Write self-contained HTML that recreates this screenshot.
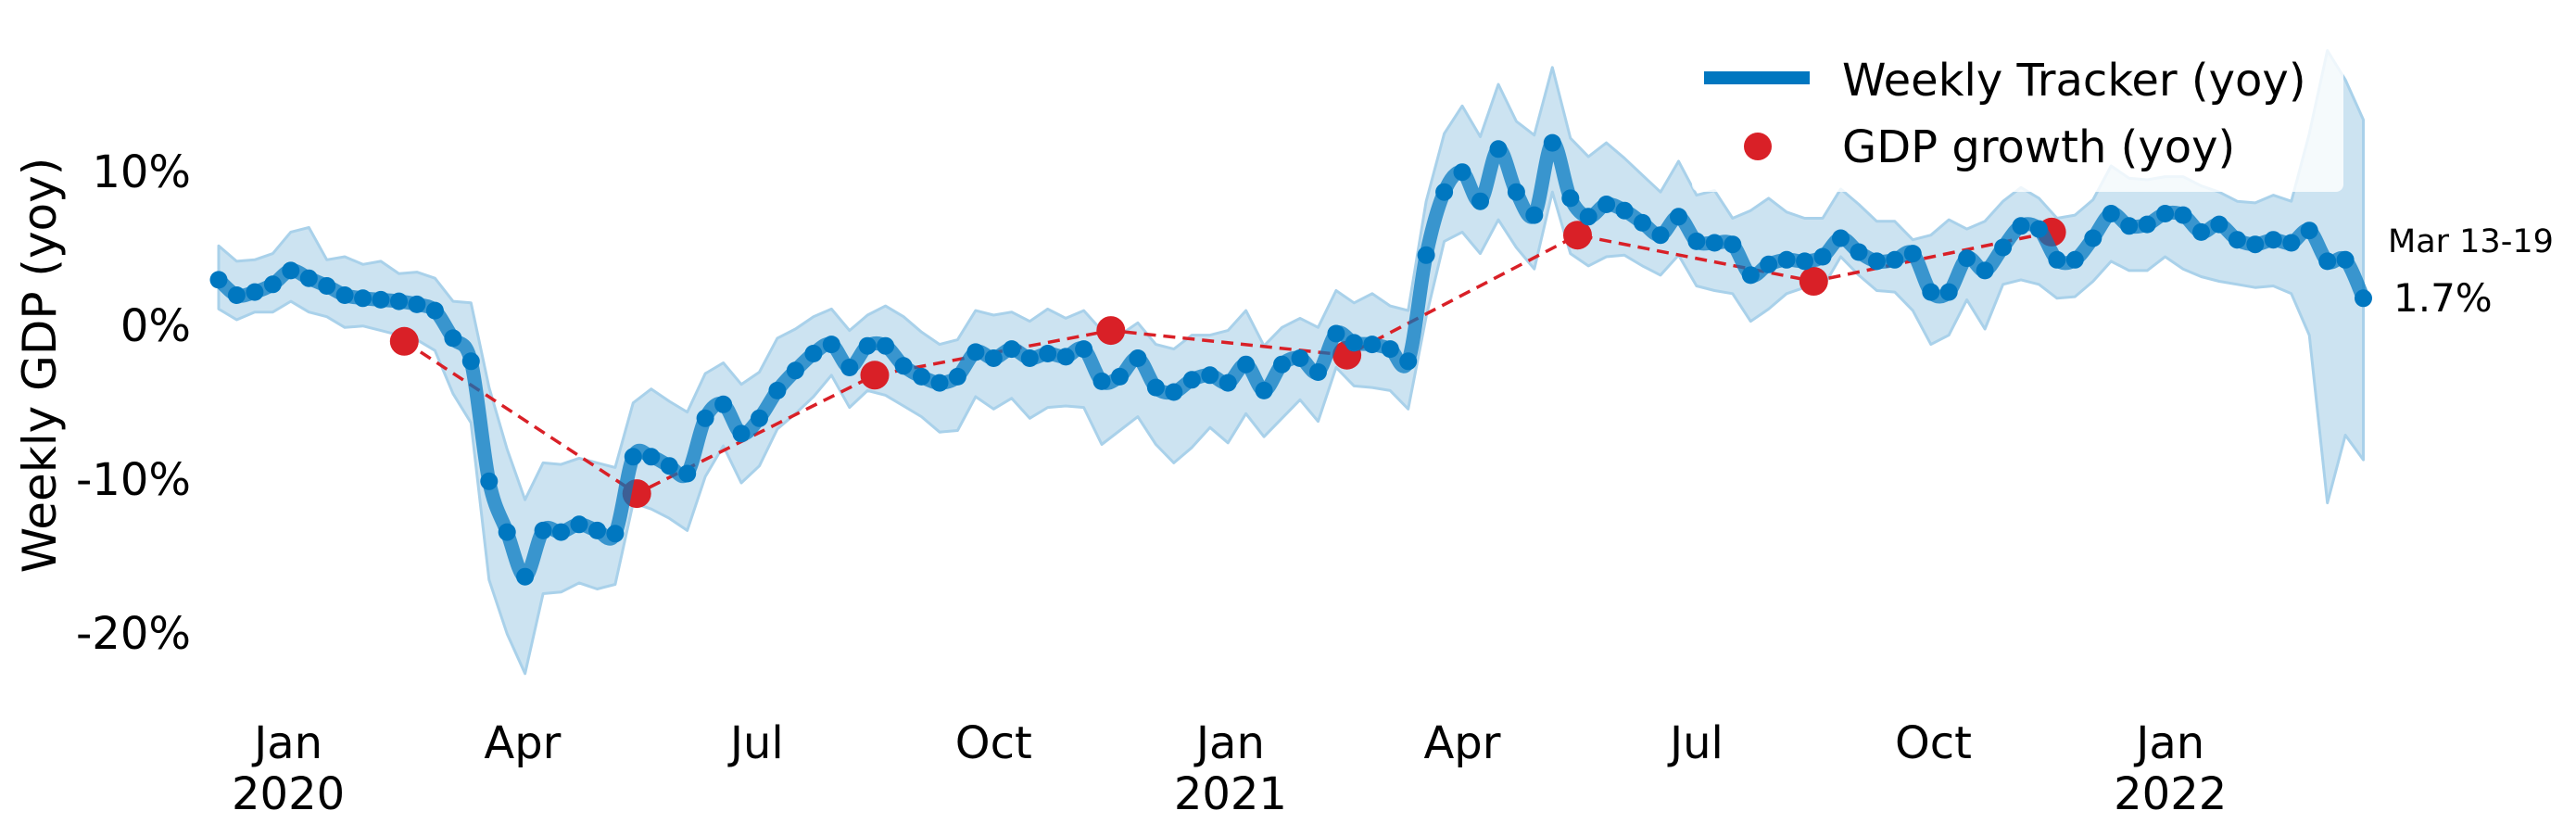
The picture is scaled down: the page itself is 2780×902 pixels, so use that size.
<!DOCTYPE html>
<html><head><meta charset="utf-8"><style>
html,body{margin:0;padding:0;background:#fff;}
svg{display:block;font-family:"DejaVu Sans","Liberation Sans",sans-serif;}
</style></head><body>
<svg id="chart" width="2780" height="902" viewBox="0 0 2780 902" xmlns="http://www.w3.org/2000/svg">
<g id="band-layer"></g>
<g id="gdp-layer"></g>
<g id="line-layer"></g>
<g id="yticks"></g>
<g id="xticks"></g>
<text transform="translate(60,394) rotate(-90)" text-anchor="middle" font-size="50" fill="#000">Weekly GDP (yoy)</text>
<g>
  <rect x="1826" y="28" width="703" height="179" rx="8" fill="#fff" fill-opacity="0.8"/>
  <g>
    <line x1="1839" y1="84" x2="1953" y2="84" stroke="#0077c0" stroke-width="14"/>
    <circle cx="1896" cy="84" r="5" fill="#0077c0"/>
    <text x="1988" y="103" font-size="48" fill="#000">Weekly Tracker (yoy)</text>
  </g>
  <g>
    <circle cx="1897" cy="158" r="15" fill="#d92027"/>
    <text x="1988" y="175" font-size="48" fill="#000">GDP growth (yoy)</text>
  </g>
</g>
<text x="2577" y="272" font-size="35" fill="#000">Mar 13-19</text>
<text x="2583" y="336" font-size="42" fill="#000">1.7%</text>
</svg>
<script>
// ---- data ----
const weekly = [2.9,1.9,2.1,2.6,3.5,3.0,2.5,1.9,1.7,1.6,1.5,1.3,0.9,-0.9,-2.4,-10.2,-13.5,-16.4,-13.4,-13.5,-13.0,-13.4,-13.6,-8.6,-8.6,-9.2,-9.7,-6.1,-5.2,-7.1,-6.1,-4.3,-3.0,-1.9,-1.3,-2.8,-1.4,-1.4,-2.7,-3.4,
-3.8,-3.4,-1.8,-2.2,-1.6,-2.2,-1.9,-2.1,-1.6,-3.7,-3.4,-2.2,-4.1,-4.4,-3.6,-3.3,-3.8,-2.6,-4.3,-2.6,-2.2,-3.1,-0.6,-1.2,-1.3,-1.6,-2.4,
4.5,8.6,9.9,8.0,11.4,8.6,7.1,11.8,8.2,7.0,7.8,7.4,6.6,5.8,7.0,5.4,5.3,5.2,3.2,3.9,4.2,4.1,4.4,5.6,4.7,4.1,4.2,4.6,2.1,2.1,4.3,3.5,5.0,6.4,6.2,4.2,4.2,5.6,7.2,6.4,6.5,7.2,7.1,6.0,6.5,5.5,5.2,5.5,5.3,6.1,4.1,4.2,1.7];
const upper = [5.1,4.1,4.2,4.6,6.0,6.3,4.2,4.4,3.9,4.1,3.3,3.4,3.0,1.5,1.4,-4.1,-8.1,-11.4,-9.0,-9.1,-8.7,-9.0,-9.3,-5.1,-4.2,-5.0,-5.7,-3.2,-2.5,-3.9,-3.1,-0.9,-0.3,0.5,1.0,-0.4,0.6,1.2,0.5,-0.5,
-1.3,-1.0,0.9,0.6,0.8,0.2,1.0,0.4,0.9,-0.4,-0.7,0.1,-1.3,-1.6,-0.7,-0.7,-0.4,0.9,-1.4,-0.2,0.4,-0.2,2.2,1.4,2.0,1.2,0.9,
8.0,12.4,14.2,12.2,15.6,13.2,12.3,16.7,12.1,10.9,11.8,10.8,9.7,8.6,10.6,8.4,8.7,6.9,7.4,8.2,7.3,6.9,6.9,8.8,7.8,6.7,6.7,5.5,5.8,6.8,6.2,6.7,8.0,8.9,8.2,6.9,7.1,8.1,10.3,9.5,9.4,9.6,9.6,9.0,8.6,8.0,7.9,8.4,8.0,12.4,17.8,15.9,13.3];
const lower = [1.0,0.3,0.8,0.8,1.5,0.8,0.5,-0.2,-0.1,-0.4,-0.7,-1.0,-1.7,-4.5,-6.4,-16.6,-20.1,-22.7,-17.5,-17.4,-16.8,-17.2,-16.9,-11.6,-12.0,-12.6,-13.4,-9.9,-7.9,-10.3,-9.2,-6.8,-5.8,-4.7,-3.3,-5.4,-4.3,-4.6,-5.3,-6.0,
-7.0,-6.9,-4.7,-5.5,-4.8,-6.1,-5.4,-5.3,-5.4,-7.8,-6.9,-6.0,-7.8,-9.0,-8.0,-6.7,-7.7,-5.8,-7.3,-6.1,-4.9,-6.3,-2.8,-4.0,-4.1,-4.3,-5.5,
0.5,5.4,6.0,4.6,6.8,5.0,3.6,8.6,4.6,3.8,4.4,4.5,3.8,3.2,4.5,2.5,2.2,2.0,0.2,1.0,2.0,2.4,2.4,4.4,3.2,2.2,2.1,0.9,-1.3,-0.7,1.6,-0.3,2.6,2.9,2.6,1.7,1.8,2.8,4.1,3.5,3.5,4.4,3.6,3.1,2.8,2.6,2.4,2.5,2.0,-0.7,-11.6,-7.2,-8.8];
const gdpWeek = [10.3,23.2,36.4,49.5,62.6,75.4,88.5,101.7];
const gdpValues = [-1.1,-11.0,-3.3,-0.4,-2.0,5.8,2.8,6.0];
const yTickValues = [-20,-10,0,10];
const yTickLabels = ["-20%","-10%","0%","10%"];
const xTickWeeks = [3.86,16.86,29.86,43.0,56.14,69.0,82.0,95.14,108.29];
const xTickMonths = ["Jan","Apr","Jul","Oct","Jan","Apr","Jul","Oct","Jan"];
const xTickYears = ["2020","","","","2021","","","","2022"];

// ---- scales ----
const X0 = 236, DX = 19.45;
const xs = k => X0 + k * DX;
const ys = v => 350 - v * 16.6;
const NS = "http://www.w3.org/2000/svg";
function mk(tag, parent){ const e = document.createElementNS(NS, tag); parent.appendChild(e); return e; }

// band
const band = document.getElementById('band-layer');
let d = '';
upper.forEach((v,i)=>{ d += (i?'L':'M') + xs(i).toFixed(1) + ',' + ys(v).toFixed(1); });
for (let i = lower.length-1; i >= 0; i--) d += 'L' + xs(i).toFixed(1) + ',' + ys(lower[i]).toFixed(1);
const bp = mk('path', band);


bp.setAttribute('d', d + 'Z');
bp.setAttribute('fill', '#cce3f1');
bp.setAttribute('stroke', '#a9d1ea');
bp.setAttribute('stroke-width', '3');
bp.setAttribute('stroke-linejoin', 'round');

// gdp dashed line + dots
const gl = document.getElementById('gdp-layer');
const gpath = mk('polyline', gl);


gpath.setAttribute('points', gdpWeek.map((k,i)=>xs(k).toFixed(1)+','+ys(gdpValues[i]).toFixed(1)).join(' '));
gpath.setAttribute('fill', 'none');
gpath.setAttribute('stroke', '#d92027');
gpath.setAttribute('stroke-width', '3.5');
gpath.setAttribute('stroke-dasharray', '13 8');

// weekly smooth line
const ll = document.getElementById('line-layer');
const pts = weekly.map((v,i)=>[xs(i), ys(v)]);
let ld = 'M' + pts[0][0] + ',' + pts[0][1];
for (let i = 0; i < pts.length-1; i++) {
  const p0 = pts[Math.max(0,i-1)], p1 = pts[i], p2 = pts[i+1], p3 = pts[Math.min(pts.length-1,i+2)];
  const c1x = p1[0] + (p2[0]-p0[0])/6, c1y = p1[1] + (p2[1]-p0[1])/6;
  const c2x = p2[0] - (p3[0]-p1[0])/6, c2y = p2[1] - (p3[1]-p1[1])/6;
  ld += 'C' + c1x.toFixed(1)+','+c1y.toFixed(1)+' '+c2x.toFixed(1)+','+c2y.toFixed(1)+' '+p2[0].toFixed(1)+','+p2[1].toFixed(1);
}
const lp = mk('path', ll);


lp.setAttribute('d', ld);
lp.setAttribute('fill', 'none');
lp.setAttribute('stroke', '#0077c0');
lp.setAttribute('stroke-opacity', '0.72');
lp.setAttribute('stroke-width', '15');
lp.setAttribute('stroke-linecap', 'round');
lp.setAttribute('stroke-linejoin', 'round');
weekly.forEach((v,i)=>{
  const c = mk('circle', ll);
  
  
  c.setAttribute('cx', xs(i).toFixed(1));
  c.setAttribute('cy', ys(v).toFixed(1));
  c.setAttribute('r', '9.5');
  c.setAttribute('fill', '#0077c0');
});
gdpValues.forEach((v,i)=>{
  const c = mk('circle', gl);
  
  
  c.setAttribute('cx', xs(gdpWeek[i]).toFixed(1));
  c.setAttribute('cy', ys(v).toFixed(1));
  c.setAttribute('r', '15.5');
  c.setAttribute('fill', '#d92027');
});

// y ticks
const yt = document.getElementById('yticks');
yTickValues.forEach((v,i)=>{
  const t = mk('text', yt);
  
  
  t.setAttribute('x', '206');
  t.setAttribute('y', (ys(v) + 18).toFixed(1));
  t.setAttribute('text-anchor', 'end');
  t.setAttribute('font-size', '48');
  t.textContent = yTickLabels[i];
});
// x ticks
const xt = document.getElementById('xticks');
xTickWeeks.forEach((k,i)=>{
  const t = mk('text', xt);
  
  
  t.setAttribute('x', xs(k).toFixed(1));
  t.setAttribute('y', '818');
  t.setAttribute('text-anchor', 'middle');
  t.setAttribute('font-size', '48');
  t.textContent = xTickMonths[i];
  if (xTickYears[i]) {
    const y = mk('text', xt);
    
    
    y.setAttribute('x', xs(k).toFixed(1));
    y.setAttribute('y', '873');
    y.setAttribute('text-anchor', 'middle');
    y.setAttribute('font-size', '48');
    y.textContent = xTickYears[i];
  }
});
</script>
</body></html>
